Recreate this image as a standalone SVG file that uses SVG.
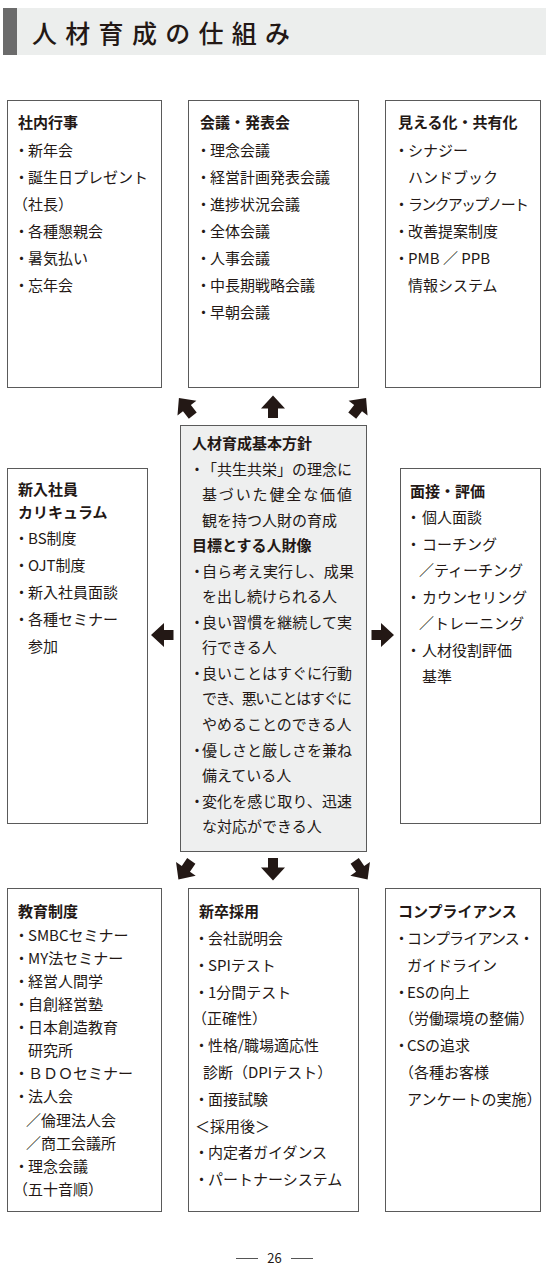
<svg xmlns="http://www.w3.org/2000/svg" width="551" height="1275" viewBox="0 0 551 1275">
<style>
text{font-family:"Noto Sans CJK JP","Noto Sans",sans-serif;font-size:15px;font-weight:400;fill:#231815}
.h{font-weight:700}
.box{fill:#fff;stroke:#5a5a5a;stroke-width:1}
.cbox{fill:#eeefef;stroke:#5a5a5a;stroke-width:1}
.arr{fill:#231815}
</style>
<defs>
<path id="arr" d="M0,-11.5 L12,1.5 L5,1.5 L5,11 L-5,11 L-5,1.5 L-12,1.5 Z"/>
</defs>
<rect width="551" height="1275" fill="#fff"/>
<g id="header">
<rect x="3" y="8" width="543" height="47" fill="#eceeed"/>
<rect x="3" y="8" width="14" height="47" fill="#6b6b6b"/>
<text x="32" y="43" style="font-size:25px;letter-spacing:8.3px;font-weight:500">人材育成の仕組み</text>
</g>

<g id="shanai">
<rect class="box" x="7.5" y="100.5" width="154" height="287"/>
<text class="h" x="18" y="128">社内行事</text>
<text y="156"><tspan x="14">・</tspan><tspan x="28">新年会</tspan></text>
<text y="183"><tspan x="14">・</tspan><tspan x="28">誕生日プレゼント</tspan></text>
<text x="13" y="210">（社長）</text>
<text y="237"><tspan x="14">・</tspan><tspan x="28">各種懇親会</tspan></text>
<text y="264"><tspan x="14">・</tspan><tspan x="28">暑気払い</tspan></text>
<text y="291"><tspan x="14">・</tspan><tspan x="28">忘年会</tspan></text>
</g>

<g id="kaigi">
<rect class="box" x="188.5" y="100.5" width="170" height="287"/>
<text class="h" x="200" y="128">会議・発表会</text>
<text y="156"><tspan x="196">・</tspan><tspan x="210">理念会議</tspan></text>
<text y="183"><tspan x="196">・</tspan><tspan x="210">経営計画発表会議</tspan></text>
<text y="210"><tspan x="196">・</tspan><tspan x="210">進捗状況会議</tspan></text>
<text y="237"><tspan x="196">・</tspan><tspan x="210">全体会議</tspan></text>
<text y="264"><tspan x="196">・</tspan><tspan x="210">人事会議</tspan></text>
<text y="291"><tspan x="196">・</tspan><tspan x="210">中長期戦略会議</tspan></text>
<text y="318"><tspan x="196">・</tspan><tspan x="210">早朝会議</tspan></text>
</g>

<g id="mieruka">
<rect class="box" x="385.5" y="100.5" width="155" height="287"/>
<text class="h" x="398" y="128">見える化・共有化</text>
<text y="156"><tspan x="394">・</tspan><tspan x="408">シナジー</tspan></text>
<text x="408" y="183">ハンドブック</text>
<text y="210"><tspan x="394">・</tspan><tspan x="408" textLength="121" lengthAdjust="spacing">ランクアップノート</tspan></text>
<text y="237"><tspan x="394">・</tspan><tspan x="408">改善提案制度</tspan></text>
<text y="264"><tspan x="394">・</tspan><tspan x="408">PMB ／ PPB</tspan></text>
<text x="408" y="291">情報システム</text>
</g>

<g id="shinnyu">
<rect class="box" x="7.5" y="468.5" width="140" height="355"/>
<text class="h" x="18" y="495">新入社員</text>
<text class="h" x="18" y="518">カリキュラム</text>
<text y="544"><tspan x="14">・</tspan><tspan x="28">BS制度</tspan></text>
<text y="571"><tspan x="14">・</tspan><tspan x="28">OJT制度</tspan></text>
<text y="598"><tspan x="14">・</tspan><tspan x="28">新入社員面談</tspan></text>
<text y="625"><tspan x="14">・</tspan><tspan x="28">各種セミナー</tspan></text>
<text x="28" y="652">参加</text>
</g>

<g id="kihon">
<rect class="cbox" x="180.5" y="425.5" width="186" height="426"/>
<text class="h" x="192" y="449">人材育成基本方針</text>
<text y="474.5"><tspan x="189.5">・</tspan><tspan x="202" textLength="150" lengthAdjust="spacing">「共生共栄」の理念に</tspan></text>
<text x="202" y="500" textLength="150" lengthAdjust="spacing">基づいた健全な価値</text>
<text x="202" y="526">観を持つ人財の育成</text>
<text class="h" x="192" y="551">目標とする人財像</text>
<text y="577"><tspan x="189.5">・</tspan><tspan x="202" textLength="152" lengthAdjust="spacing">自ら考え実行し、成果</tspan></text>
<text x="202" y="602">を出し続けられる人</text>
<text y="628"><tspan x="189.5">・</tspan><tspan x="202" textLength="150" lengthAdjust="spacing">良い習慣を継続して実</tspan></text>
<text x="202" y="653">行できる人</text>
<text y="679"><tspan x="189.5">・</tspan><tspan x="202" textLength="150" lengthAdjust="spacing">良いことはすぐに行動</tspan></text>
<text x="202" y="704" textLength="150" lengthAdjust="spacing">でき、悪いことはすぐに</text>
<text x="202" y="730">やめることのできる人</text>
<text y="756"><tspan x="189.5">・</tspan><tspan x="202" textLength="150" lengthAdjust="spacing">優しさと厳しさを兼ね</tspan></text>
<text x="202" y="781">備えている人</text>
<text y="807"><tspan x="189.5">・</tspan><tspan x="202" textLength="150" lengthAdjust="spacing">変化を感じ取り、迅速</tspan></text>
<text x="202" y="832">な対応ができる人</text>
</g>

<g id="mensetsu">
<rect class="box" x="400.5" y="468.5" width="140" height="355"/>
<text class="h" x="410" y="497">面接・評価</text>
<text y="523"><tspan x="406">・</tspan><tspan x="422">個人面談</tspan></text>
<text y="550"><tspan x="406">・</tspan><tspan x="422">コーチング</tspan></text>
<text x="419" y="576">／ティーチング</text>
<text y="603"><tspan x="406">・</tspan><tspan x="422">カウンセリング</tspan></text>
<text x="419" y="629">／トレーニング</text>
<text y="656"><tspan x="406">・</tspan><tspan x="422">人材役割評価</tspan></text>
<text x="422" y="682">基準</text>
</g>

<g id="kyoiku">
<rect class="box" x="7.5" y="888.5" width="154" height="323"/>
<text class="h" x="18" y="917">教育制度</text>
<text y="941"><tspan x="14">・</tspan><tspan x="28">SMBCセミナー</tspan></text>
<text y="964"><tspan x="14">・</tspan><tspan x="28">MY法セミナー</tspan></text>
<text y="987"><tspan x="14">・</tspan><tspan x="28">経営人間学</tspan></text>
<text y="1010"><tspan x="14">・</tspan><tspan x="28">自創経営塾</tspan></text>
<text y="1033"><tspan x="14">・</tspan><tspan x="28">日本創造教育</tspan></text>
<text x="28" y="1056">研究所</text>
<text y="1079"><tspan x="14">・</tspan><tspan x="28">ＢＤＯセミナー</tspan></text>
<text y="1102"><tspan x="14">・</tspan><tspan x="28">法人会</tspan></text>
<text x="26" y="1126">／倫理法人会</text>
<text x="26" y="1149">／商工会議所</text>
<text y="1172"><tspan x="14">・</tspan><tspan x="28">理念会議</tspan></text>
<text x="13" y="1195">（五十音順）</text>
</g>

<g id="shinsotsu">
<rect class="box" x="188.5" y="888.5" width="170" height="323"/>
<text class="h" x="199" y="917">新卒採用</text>
<text y="944"><tspan x="194">・</tspan><tspan x="208">会社説明会</tspan></text>
<text y="971"><tspan x="194">・</tspan><tspan x="208">SPIテスト</tspan></text>
<text y="998"><tspan x="194">・</tspan><tspan x="208">1分間テスト</tspan></text>
<text x="192" y="1024">（正確性）</text>
<text y="1051"><tspan x="194">・</tspan><tspan x="208">性格/職場適応性</tspan></text>
<text x="203" y="1078">診断（DPIテスト）</text>
<text y="1105"><tspan x="194">・</tspan><tspan x="208">面接試験</tspan></text>
<text x="195" y="1132">＜採用後＞</text>
<text y="1158"><tspan x="194">・</tspan><tspan x="208">内定者ガイダンス</tspan></text>
<text y="1185"><tspan x="194">・</tspan><tspan x="208">パートナーシステム</tspan></text>
</g>

<g id="compliance">
<rect class="box" x="385.5" y="888.5" width="155" height="323"/>
<text class="h" x="398" y="917">コンプライアンス</text>
<text y="944"><tspan x="394">・</tspan><tspan x="407" textLength="127" lengthAdjust="spacing">コンプライアンス・</tspan></text>
<text x="407" y="971">ガイドライン</text>
<text y="998"><tspan x="394">・</tspan><tspan x="407">ESの向上</tspan></text>
<text x="399" y="1024">（労働環境の整備）</text>
<text y="1051"><tspan x="394">・</tspan><tspan x="407">CSの追求</tspan></text>
<text x="399" y="1078">（各種お客様</text>
<text x="407" y="1105">アンケートの実施）</text>
</g>

<g id="connectors" class="arr">
<use href="#arr" transform="translate(186,407) rotate(-38)"/>
<use href="#arr" transform="translate(273,407)"/>
<use href="#arr" transform="translate(359,407) rotate(38)"/>
<use href="#arr" transform="translate(185,870) rotate(215)"/>
<use href="#arr" transform="translate(273,869) rotate(180)"/>
<use href="#arr" transform="translate(361,870) rotate(145)"/>
<use href="#arr" transform="translate(162.5,635) rotate(-90)"/>
<use href="#arr" transform="translate(382.5,635) rotate(90)"/>
</g>

<g id="footer">
<line x1="236" y1="1258.5" x2="258" y2="1258.5" stroke="#555" stroke-width="1"/>
<line x1="291" y1="1258.5" x2="313" y2="1258.5" stroke="#555" stroke-width="1"/>
<text x="274.5" y="1263" text-anchor="middle" style="font-size:13px">26</text>
</g>
</svg>
